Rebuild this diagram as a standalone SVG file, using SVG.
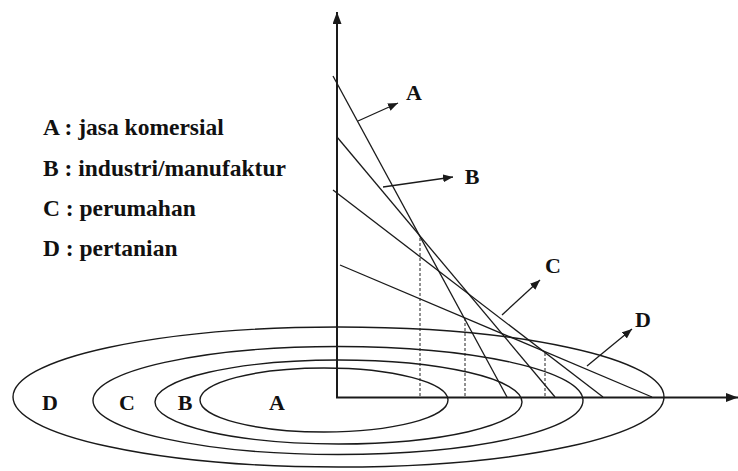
<svg xmlns="http://www.w3.org/2000/svg" width="738" height="471" viewBox="0 0 738 471">
<defs>
<style>
.ln{fill:none;stroke:#1a1a1a;stroke-width:1.3}
.ax{fill:none;stroke:#1a1a1a;stroke-width:2}
.el{fill:none;stroke:#1a1a1a;stroke-width:1.4}
.dt{fill:none;stroke:#222;stroke-width:1;stroke-dasharray:3 2}
.ar{fill:none;stroke:#1a1a1a;stroke-width:1.3;marker-end:url(#ah)}
.tx{font-family:"Liberation Serif","Times New Roman",serif;font-weight:bold;fill:#111}
.lg{font-size:23.5px}
.lb{font-size:22px;text-anchor:middle}
</style>
<marker id="ah" markerUnits="userSpaceOnUse" markerWidth="12" markerHeight="10" refX="10" refY="4" orient="auto">
<path d="M0,0 L10,4 L0,8 Z" fill="#1a1a1a"/>
</marker>
<marker id="axh" markerUnits="userSpaceOnUse" markerWidth="14" markerHeight="10" refX="12" refY="4.5" orient="auto">
<path d="M0,0 L12,4.5 L0,9 Z" fill="#1a1a1a"/>
</marker>
</defs>
<rect width="738" height="471" fill="#fff"/>

<g id="legend" class="tx lg">
<text x="43" y="135">A : jasa komersial</text>
<text x="43" y="176">B : industri/manufaktur</text>
<text x="43" y="216">C : perumahan</text>
<text x="43" y="256">D : pertanian</text>
</g>

<g id="zone-D"><ellipse class="el" cx="338.5" cy="397" rx="325.5" ry="70"/><text class="tx lb" x="50" y="410">D</text></g>
<g id="zone-C"><ellipse class="el" cx="338" cy="400.5" rx="245" ry="54"/><text class="tx lb" x="127" y="410">C</text></g>
<g id="zone-B"><ellipse class="el" cx="338.5" cy="402" rx="183.5" ry="42"/><text class="tx lb" x="185" y="410">B</text></g>
<g id="zone-A"><ellipse class="el" cx="324" cy="400" rx="124" ry="32"/><text class="tx lb" x="277" y="410">A</text></g>

<g id="axes">
<line class="ax" x1="337" y1="398" x2="337" y2="12" marker-end="url(#axh)"/>
<line class="ax" x1="336" y1="397.5" x2="738" y2="397.5" marker-end="url(#axh)"/>
</g>

<g id="curve-A"><line class="ln" x1="333" y1="76" x2="507" y2="397"/></g>
<g id="curve-B"><line class="ln" x1="337" y1="137" x2="555" y2="397"/></g>
<g id="curve-C"><line class="ln" x1="333" y1="190" x2="603" y2="397"/></g>
<g id="curve-D"><line class="ln" x1="340" y1="265" x2="652" y2="397"/></g>

<g id="droplines">
<line class="dt" x1="420" y1="238" x2="420" y2="397"/>
<line class="dt" x1="465" y1="318" x2="465" y2="397"/>
<line class="dt" x1="545" y1="353" x2="545" y2="397"/>
</g>

<g id="connectors">
<line class="ar" x1="358" y1="121" x2="398" y2="103"/>
<line class="ar" x1="383" y1="187" x2="453" y2="177"/>
<line class="ar" x1="502" y1="315" x2="540" y2="280"/>
<line class="ar" x1="587" y1="366" x2="632" y2="329"/>
</g>

<g id="labels" class="tx lb">
<text x="414" y="100">A</text>
<text x="472" y="184">B</text>
<text x="553" y="273">C</text>
<text x="643" y="327">D</text>
</g>
</svg>
